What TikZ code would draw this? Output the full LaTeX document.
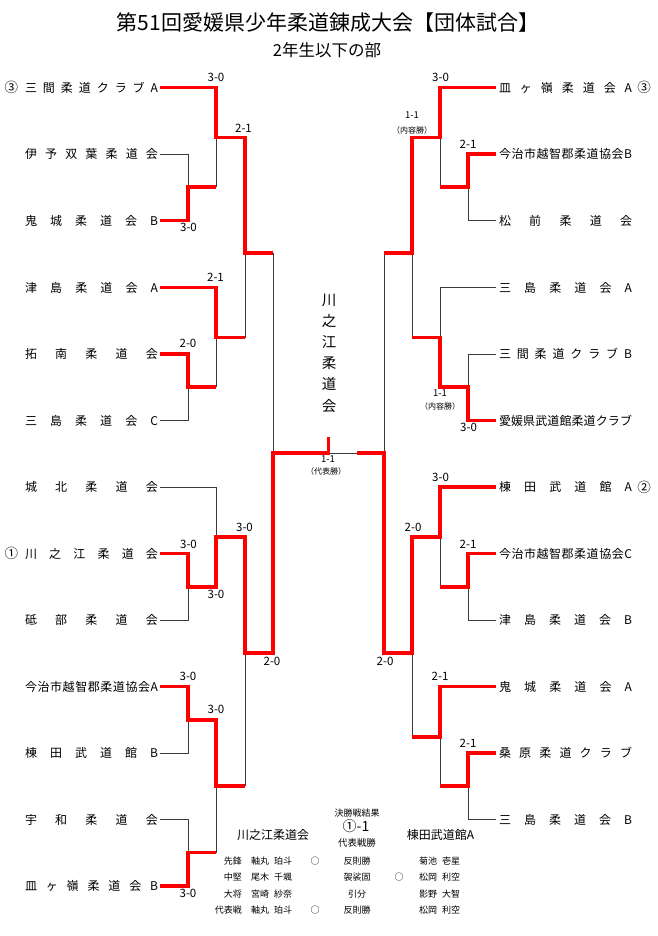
\documentclass[tikz,border=0pt]{standalone}
\usepackage{fontspec}
\setmainfont{Noto Sans CJK JP}
\let\sprEnd\relax
\def\spr#1{\makebox[133pt]{\sprA#1\sprEnd}}
\def\sprA#1{#1\futurelet\sprNext\sprB}
\def\sprB{\ifx\sprNext\sprEnd\expandafter\sprStop\else\hfill\expandafter\sprA\fi}
\def\sprStop\sprEnd{}
\definecolor{winred}{RGB}{255,0,0}
\definecolor{loseline}{RGB}{60,60,60}
\tikzset{
  win/.style={draw=winred, line width=3.8pt},
  lose/.style={draw=loseline, line width=0.9pt},
  lteam/.style={anchor=east, inner xsep=2pt, inner ysep=0pt, outer sep=0pt, font=\fontsize{12}{12}\selectfont},
  rteam/.style={anchor=west, inner xsep=3pt, inner ysep=0pt, outer sep=0pt, font=\fontsize{12}{12}\selectfont},
  seed/.style={inner sep=0pt, font=\fontsize{13.5}{13.5}\selectfont},
  score/.style={inner sep=0pt, font=\fontsize{11.5}{11.5}\selectfont},
  sscore/.style={inner sep=0pt, font=\fontsize{9.5}{9.5}\selectfont},
  note/.style={inner sep=0pt, font=\fontsize{8}{8}\selectfont},
  tbl/.style={inner sep=0pt, font=\fontsize{9}{9}\selectfont},
}
\begin{document}
\begin{tikzpicture}[x=1pt,y=-1pt]
\fill[white] (0,0) rectangle (657,936);
\useasboundingbox (0,0) rectangle (657,936);

% titles
\node[inner sep=0pt, font=\fontsize{21}{21}\selectfont] (title) at (328,23) {第51回愛媛県少年柔道錬成大会【団体試合】};
\node[inner sep=0pt, font=\fontsize{16.5}{16.5}\selectfont] (subtitle) at (327,50) {2年生以下の部};

% left teams
\node[lteam] (L1) at (160,87.5) {\spr{三間柔道クラブA}};
\node[lteam] (L2) at (160,154) {\spr{伊予双葉柔道会}};
\node[lteam] (L3) at (160,220.5) {\spr{鬼城柔道会B}};
\node[lteam] (L4) at (160,287.5) {\spr{津島柔道会A}};
\node[lteam] (L5) at (160,354) {\spr{拓南柔道会}};
\node[lteam] (L6) at (160,420.5) {\spr{三島柔道会C}};
\node[lteam] (L7) at (160,487) {\spr{城北柔道会}};
\node[lteam] (L8) at (160,553.5) {\spr{川之江柔道会}};
\node[lteam] (L9) at (160,620) {\spr{砥部柔道会}};
\node[lteam] (L10) at (160,686.5) {\spr{今治市越智郡柔道協会A}};
\node[lteam] (L11) at (160,753) {\spr{棟田武道館B}};
\node[lteam] (L12) at (160,819.5) {\spr{宇和柔道会}};
\node[lteam] (L13) at (160,886) {\spr{皿ヶ嶺柔道会B}};
\node[seed] (seedL1) at (11.5,87.5) {③};
\node[seed] (seedL8) at (11.5,553.5) {①};

% right teams
\node[rteam] (R1) at (496,87.5) {\spr{皿ヶ嶺柔道会A}};
\node[rteam] (R2) at (496,154) {\spr{今治市越智郡柔道協会B}};
\node[rteam] (R3) at (496,220.5) {\spr{松前柔道会}};
\node[rteam] (R4) at (496,287.5) {\spr{三島柔道会A}};
\node[rteam] (R5) at (496,354) {\spr{三間柔道クラブB}};
\node[rteam] (R6) at (496,420.5) {\spr{愛媛県武道館柔道クラブ}};
\node[rteam] (R7) at (496,487) {\spr{棟田武道館A}};
\node[rteam] (R8) at (496,553.5) {\spr{今治市越智郡柔道協会C}};
\node[rteam] (R9) at (496,620) {\spr{津島柔道会B}};
\node[rteam] (R10) at (496,686.5) {\spr{鬼城柔道会A}};
\node[rteam] (R11) at (496,753) {\spr{桑原柔道クラブ}};
\node[rteam] (R12) at (496,819.5) {\spr{三島柔道会B}};
\node[seed] (seedR1) at (644,87.5) {③};
\node[seed] (seedR7) at (644,487) {②};

% junction coordinates, left
\coordinate (lq1) at (216,137.5);
\coordinate (lp23) at (188,187);
\coordinate (ls1) at (245,253);
\coordinate (lsf) at (273,253);
\coordinate (lq2) at (216,337.5);
\coordinate (lp56) at (188,387);
\coordinate (lf) at (273,453);
\coordinate (lq3) at (216,537);
\coordinate (lp89) at (188,587);
\coordinate (ls2) at (245,653);
\coordinate (lsf2) at (273,653);
\coordinate (lp1011) at (188,720);
\coordinate (lq4) at (216,786);
\coordinate (lp1213) at (188,852.5);
% centre
\coordinate (cm) at (328.5,453);
\coordinate (ctick) at (328.5,436.5);
\coordinate (cr) at (357,453);
% right
\coordinate (rq1) at (440,137.5);
\coordinate (rp23) at (468,187);
\coordinate (rs1) at (412,253);
\coordinate (rsf) at (384,253);
\coordinate (rf) at (384,453);
\coordinate (rq2) at (440,337.5);
\coordinate (rp56) at (468,387);
\coordinate (rq3) at (440,537);
\coordinate (rp89) at (468,587);
\coordinate (rs2) at (412,653);
\coordinate (rsf2) at (384,653);
\coordinate (rq4) at (440,737);
\coordinate (rp1112) at (468,786);

% losing (thin) lines
\draw[lose] (lsf) -- (lf);
\draw[lose] (L2.east) -| (lp23);
\draw[lose] (lp23 -| lq1) -- (lq1);
\draw[lose] (lq2 -| ls1) -- (ls1);
\draw[lose] (lp56 -| lq2) -- (lq2);
\draw[lose] (L6.east) -| (lp56);
\draw[lose] (L7.east) -| (lq3);
\draw[lose] (L9.east) -| (lp89);
\draw[lose] (lq4 -| ls2) -- (ls2);
\draw[lose] (L11.east) -| (lp1011);
\draw[lose] (L12.east) -| (lp1213);
\draw[lose] (lp1213 -| lq4) -- (lq4);
\draw[lose] (cm) -- (cr);
\draw[lose] (rsf) -- (rf);
\draw[lose] (rp23 -| rq1) -- (rq1);
\draw[lose] (R3.west) -| (rp23);
\draw[lose] (R4.west) -| (rq2);
\draw[lose] (R5.west) -| (rp56);
\draw[lose] (rq2 -| rs1) -- (rs1);
\draw[lose] (rp89 -| rq3) -- (rq3);
\draw[lose] (R9.west) -| (rp89);
\draw[lose] (rq4 -| rs2) -- (rs2);
\draw[lose] (rp1112 -| rq4) -- (rq4);
\draw[lose] (R12.west) -| (rp1112);

% winning (red) lines, left
\draw[win] (L1.east) -| (lq1) -| (ls1) -- (lsf);
\draw[win] (L3.east) -| (lp23) -- (lp23 -| lq1);
\draw[win] (L4.east) -| (lq2) -- (lq2 -| ls1);
\draw[win] (L5.east) -| (lp56) -- (lp56 -| lq2);
\draw[win] (L8.east) -| (lp89) -- (lp89 -| lq3) -- (lq3) -| (ls2) -- (lsf2) -- (lf) -- (cm) -- (ctick);
\draw[win] (L10.east) -| (lp1011) -- (lp1011 -| lq4) -- (lq4) -- (lq4 -| ls2);
\draw[win] (L13.east) -| (lp1213) -- (lp1213 -| lq4);
% winning (red) lines, right
\draw[win] (R1.west) -| (rq1) -| (rs1) -- (rsf);
\draw[win] (R2.west) -| (rp23) -- (rp23 -| rq1);
\draw[win] (R6.west) -| (rp56) -- (rp56 -| rq2) -- (rq2) -- (rq2 -| rs1);
\draw[win] (R7.west) -| (rq3) -| (rs2) -- (rsf2) -- (rf) -- (cr);
\draw[win] (R8.west) -| (rp89) -- (rp89 -| rq3);
\draw[win] (R10.west) -| (rq4) -- (rq4 -| rs2);
\draw[win] (R11.west) -| (rp1112) -- (rp1112 -| rq4);

% scores, left
\node[score] (sL1) at (216,77) {3-0};
\node[score] (sL2) at (243.5,128) {2-1};
\node[score] (sL3) at (188.5,227.5) {3-0};
\node[score] (sL4) at (215.5,277) {2-1};
\node[score] (sL5) at (188,343) {2-0};
\node[score] (sL6) at (188.5,544) {3-0};
\node[score] (sL7) at (216,594) {3-0};
\node[score] (sL8) at (244.5,527) {3-0};
\node[score] (sL9) at (272,661) {2-0};
\node[score] (sL10) at (188,676) {3-0};
\node[score] (sL11) at (216,709) {3-0};
\node[score] (sL12) at (188,893) {3-0};
% scores, right
\node[score] (sR1) at (440.5,77) {3-0};
\node[sscore] (sR2) at (412,115) {1-1};
\node[note] (sR2b) at (412,130) {（内容勝）};
\node[score] (sR3) at (468,144) {2-1};
\node[sscore] (sR4) at (440,393) {1-1};
\node[note] (sR4b) at (440,406) {（内容勝）};
\node[score] (sR5) at (468.5,427) {3-0};
\node[score] (sR6) at (440.5,477) {3-0};
\node[score] (sR7) at (413,527) {2-0};
\node[score] (sR8) at (468,544) {2-1};
\node[score] (sR9) at (385,661) {2-0};
\node[score] (sR10) at (440,676) {2-1};
\node[score] (sR11) at (468,743) {2-1};
% final
\node[sscore] (sC) at (328,459) {1-1};
\node[note] (sCb) at (326,471) {（代表勝）};
\node[inner sep=0pt, align=center, font=\fontsize{14.5}{21.2}\selectfont] (champ) at (329,353) {川\\之\\江\\柔\\道\\会};

% final result table
\node[tbl] (fres) at (357,813) {決勝戦結果};
\node[inner sep=0pt, font=\fontsize{14}{14}\selectfont] (fsc) at (356,826.5) {①-1};
\node[tbl, font=\fontsize{9.4}{9.4}\selectfont] (frs) at (357,843) {代表戦勝};
\node[inner sep=0pt, font=\fontsize{12}{12}\selectfont] (tA) at (273,835) {川之江柔道会};
\node[inner sep=0pt, font=\fontsize{12}{12}\selectfont] (tB) at (440.5,835) {棟田武道館A};

\node[tbl, anchor=east] (r1) at (242,861) {先鋒};
\node[tbl, anchor=east] (r2) at (242,877) {中堅};
\node[tbl, anchor=east] (r3) at (242,894) {大将};
\node[tbl, anchor=east] (r4) at (242,910) {代表戦};
\node[tbl, anchor=west] (a1) at (251,861) {軸丸\hspace{5pt}珀斗};
\node[tbl, anchor=west] (a2) at (251,877) {尾木\hspace{5pt}千颯};
\node[tbl, anchor=west] (a3) at (251,894) {宮崎\hspace{5pt}紗奈};
\node[tbl, anchor=west] (a4) at (251,910) {軸丸\hspace{5pt}珀斗};
\node[tbl] (c1) at (315,861) {○};
\node[tbl] (c4) at (315,910) {○};
\node[tbl] (k1) at (357,861) {反則勝};
\node[tbl] (k2) at (357,877) {袈裟固};
\node[tbl] (k3) at (357,894) {引分};
\node[tbl] (k4) at (357,910) {反則勝};
\node[tbl] (c2) at (399,877) {○};
\node[tbl, anchor=west] (b1) at (419,861) {菊池\hspace{5pt}壱星};
\node[tbl, anchor=west] (b2) at (419,877) {松岡\hspace{5pt}利空};
\node[tbl, anchor=west] (b3) at (419,894) {影野\hspace{5pt}大智};
\node[tbl, anchor=west] (b4) at (419,910) {松岡\hspace{5pt}利空};
\end{tikzpicture}
\end{document}
